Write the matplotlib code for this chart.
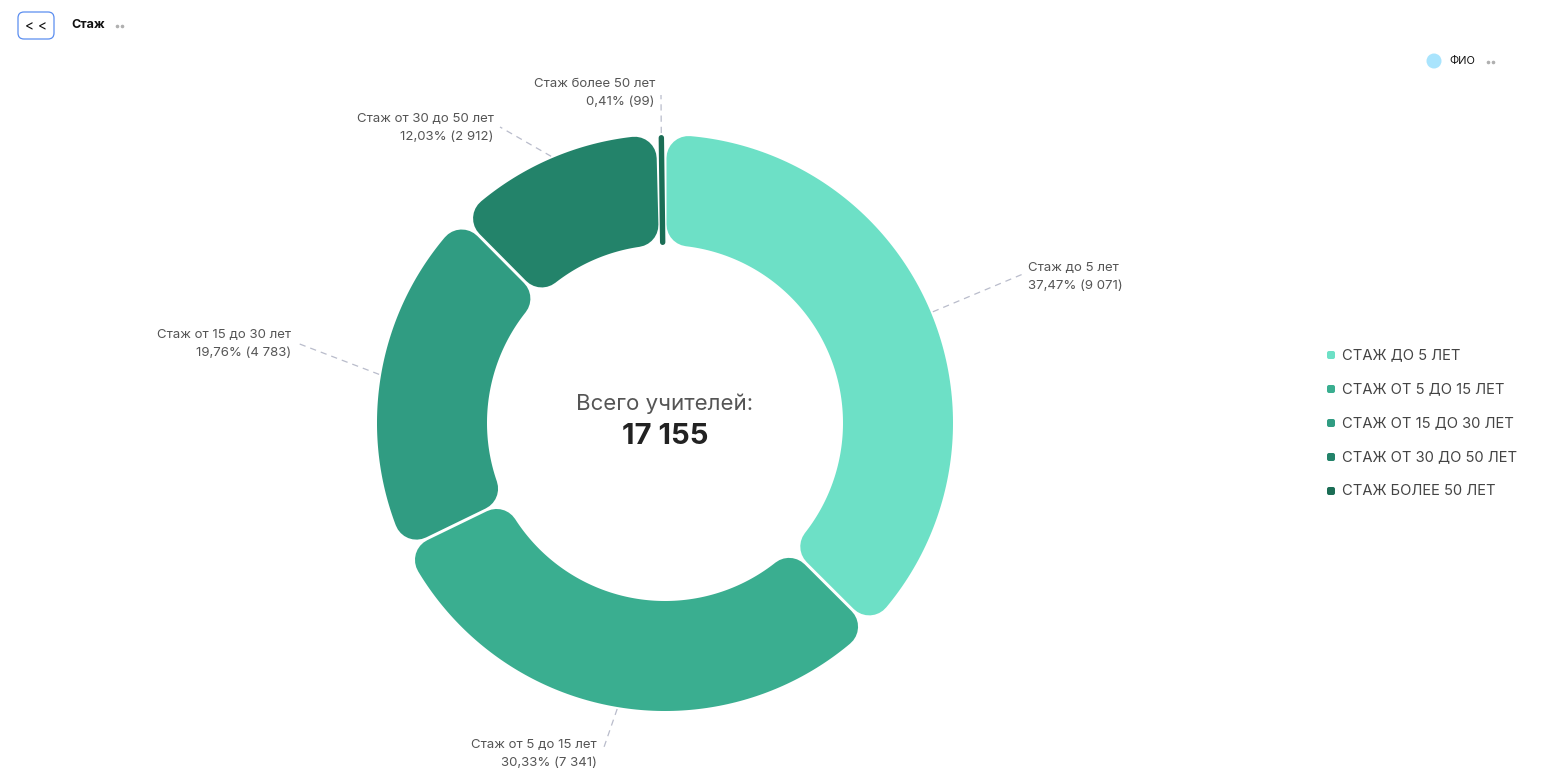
import numpy as np
import matplotlib
matplotlib.use("Agg")
from matplotlib import pyplot as plt
from matplotlib.patches import Polygon, FancyBboxPatch, Circle

plt.rcParams['font.family'] = ['Inter', 'DejaVu Sans']

# Data
categories = ["Стаж до 5 лет", "Стаж от 5 до 15 лет", "Стаж от 15 до 30 лет",
              "Стаж от 30 до 50 лет", "Стаж более 50 лет"]
legend_labels = ["СТАЖ ДО 5 ЛЕТ", "СТАЖ ОТ 5 ДО 15 ЛЕТ", "СТАЖ ОТ 15 ДО 30 ЛЕТ",
                 "СТАЖ ОТ 30 ДО 50 ЛЕТ", "СТАЖ БОЛЕЕ 50 ЛЕТ"]
values = [9071, 7341, 4783, 2912, 99]
total_teachers = 17155
colors = ["#6de0c6", "#3aae90", "#309c82", "#23836a", "#1b6d55"]

# label layout (pixel positions of leader ends)
label_ends = [(1023, 274), (603, 750), (297, 343), (500, 127), (661, 95)]
label_side = ["left", "right", "right", "right", "right"]
label_dy = [2, 4, 1, 1, -2]

W, H = 1549, 782
fig = plt.figure(figsize=(W / 100, H / 100), dpi=100)
ax = fig.add_axes([0, 0, 1, 1])
ax.set_xlim(0, W)
ax.set_ylim(H, 0)
ax.axis('off')

cx, cy = 665, 423
r_out, r_in = 288, 178
corner = 22
gap = 3
px2pt = 72 / 100


def fmt_int(v):
    return f"{v:,}".replace(",", " ")


def pt(rho, th):
    return (cx + rho * np.cos(th), cy - rho * np.sin(th))


fracs = np.array(values) / sum(values)
edges = np.pi / 2 - 2 * np.pi * np.concatenate([[0], np.cumsum(fracs)])

for i, v in enumerate(values):
    th_hi, th_lo = edges[i], edges[i + 1]
    ro, ri = r_out - corner, r_in + corner
    d = corner + gap / 2
    span = th_hi - th_lo
    if span > 2 * np.arcsin(d / ri) + 0.01:
        a_o1, a_o2 = th_lo + np.arcsin(d / ro), th_hi - np.arcsin(d / ro)
        a_i1, a_i2 = th_lo + np.arcsin(d / ri), th_hi - np.arcsin(d / ri)
        outer = [pt(ro, a) for a in np.linspace(a_o1, a_o2, 120)]
        inner = [pt(ri, a) for a in np.linspace(a_i2, a_i1, 120)]
        poly = Polygon(outer + inner, closed=True, facecolor=colors[i],
                       edgecolor=colors[i], linewidth=2 * corner * px2pt,
                       joinstyle='round')
        ax.add_patch(poly)
    else:
        # very thin slice: draw as a rounded bar
        half = 2.7
        mid = (th_hi + th_lo) / 2
        p1, p2 = pt(r_in + half, mid), pt(r_out - half, mid)
        ax.plot([p1[0], p2[0]], [p1[1], p2[1]], color=colors[i],
                linewidth=2 * half * px2pt, solid_capstyle='round')

    # leader + label
    mid = (th_hi + th_lo) / 2
    sx, sy = pt(r_out + 2, mid)
    ex, ey = label_ends[i]
    ax.plot([sx, ex], [sy, ey], color="#b9bccb", linewidth=0.9,
            linestyle=(0, (5, 4)))
    txt = f"{categories[i]}\n{fracs[i] * 100:.2f}%".replace(".", ",") + f" ({fmt_int(v)})"
    if label_side[i] == "left":
        ax.text(ex + 5, ey + label_dy[i] + 1, txt, ha='left', va='center',
                fontsize=9.5, color="#555555", linespacing=1.65)
    else:
        ax.text(ex - 6, ey + label_dy[i], txt, ha='right', va='center',
                fontsize=9.5, color="#555555", linespacing=1.65,
                multialignment='right')

# center text
ax.text(cx, 404, "Всего учителей:", ha='center', va='center', fontsize=16,
        color="#555555")
ax.text(cx, 436, fmt_int(total_teachers), ha='center', va='center',
        fontsize=21, fontweight='bold', color="#222222")

# legend
for i, lab in enumerate(legend_labels):
    y = 355 + i * 34
    ax.add_patch(FancyBboxPatch((1327, y - 4), 8, 8,
                                boxstyle="round,pad=0,rounding_size=2",
                                facecolor=colors[i], edgecolor='none'))
    ax.text(1342, y, lab, ha='left', va='center', fontsize=10.6,
            color="#444444")

# header
ax.add_patch(FancyBboxPatch((18, 12), 36, 27,
                            boxstyle="round,pad=0,rounding_size=6",
                            facecolor='white', edgecolor="#5b8ef0",
                            linewidth=0.9))
ax.text(36, 26, "< <", ha='center', va='center', fontsize=10,
        color="#111111")
ax.text(71, 25, "Стаж", ha='left', va='center', fontsize=9,
        fontweight='bold', color="#111111")
ax.plot([117, 122], [26, 26], linestyle='none', marker='o', markersize=1.6,
        color="#b0b0b0")

ax.add_patch(Circle((1434, 61), 7.5, facecolor="#a9e4fd", edgecolor='none'))
ax.text(1449, 61, "ФИО", ha='left', va='center', fontsize=8, color="#111111")
ax.plot([1488, 1493], [62, 62], linestyle='none', marker='o', markersize=1.6,
        color="#b0b0b0")

fig.savefig("out.png", dpi=100, facecolor='white')
